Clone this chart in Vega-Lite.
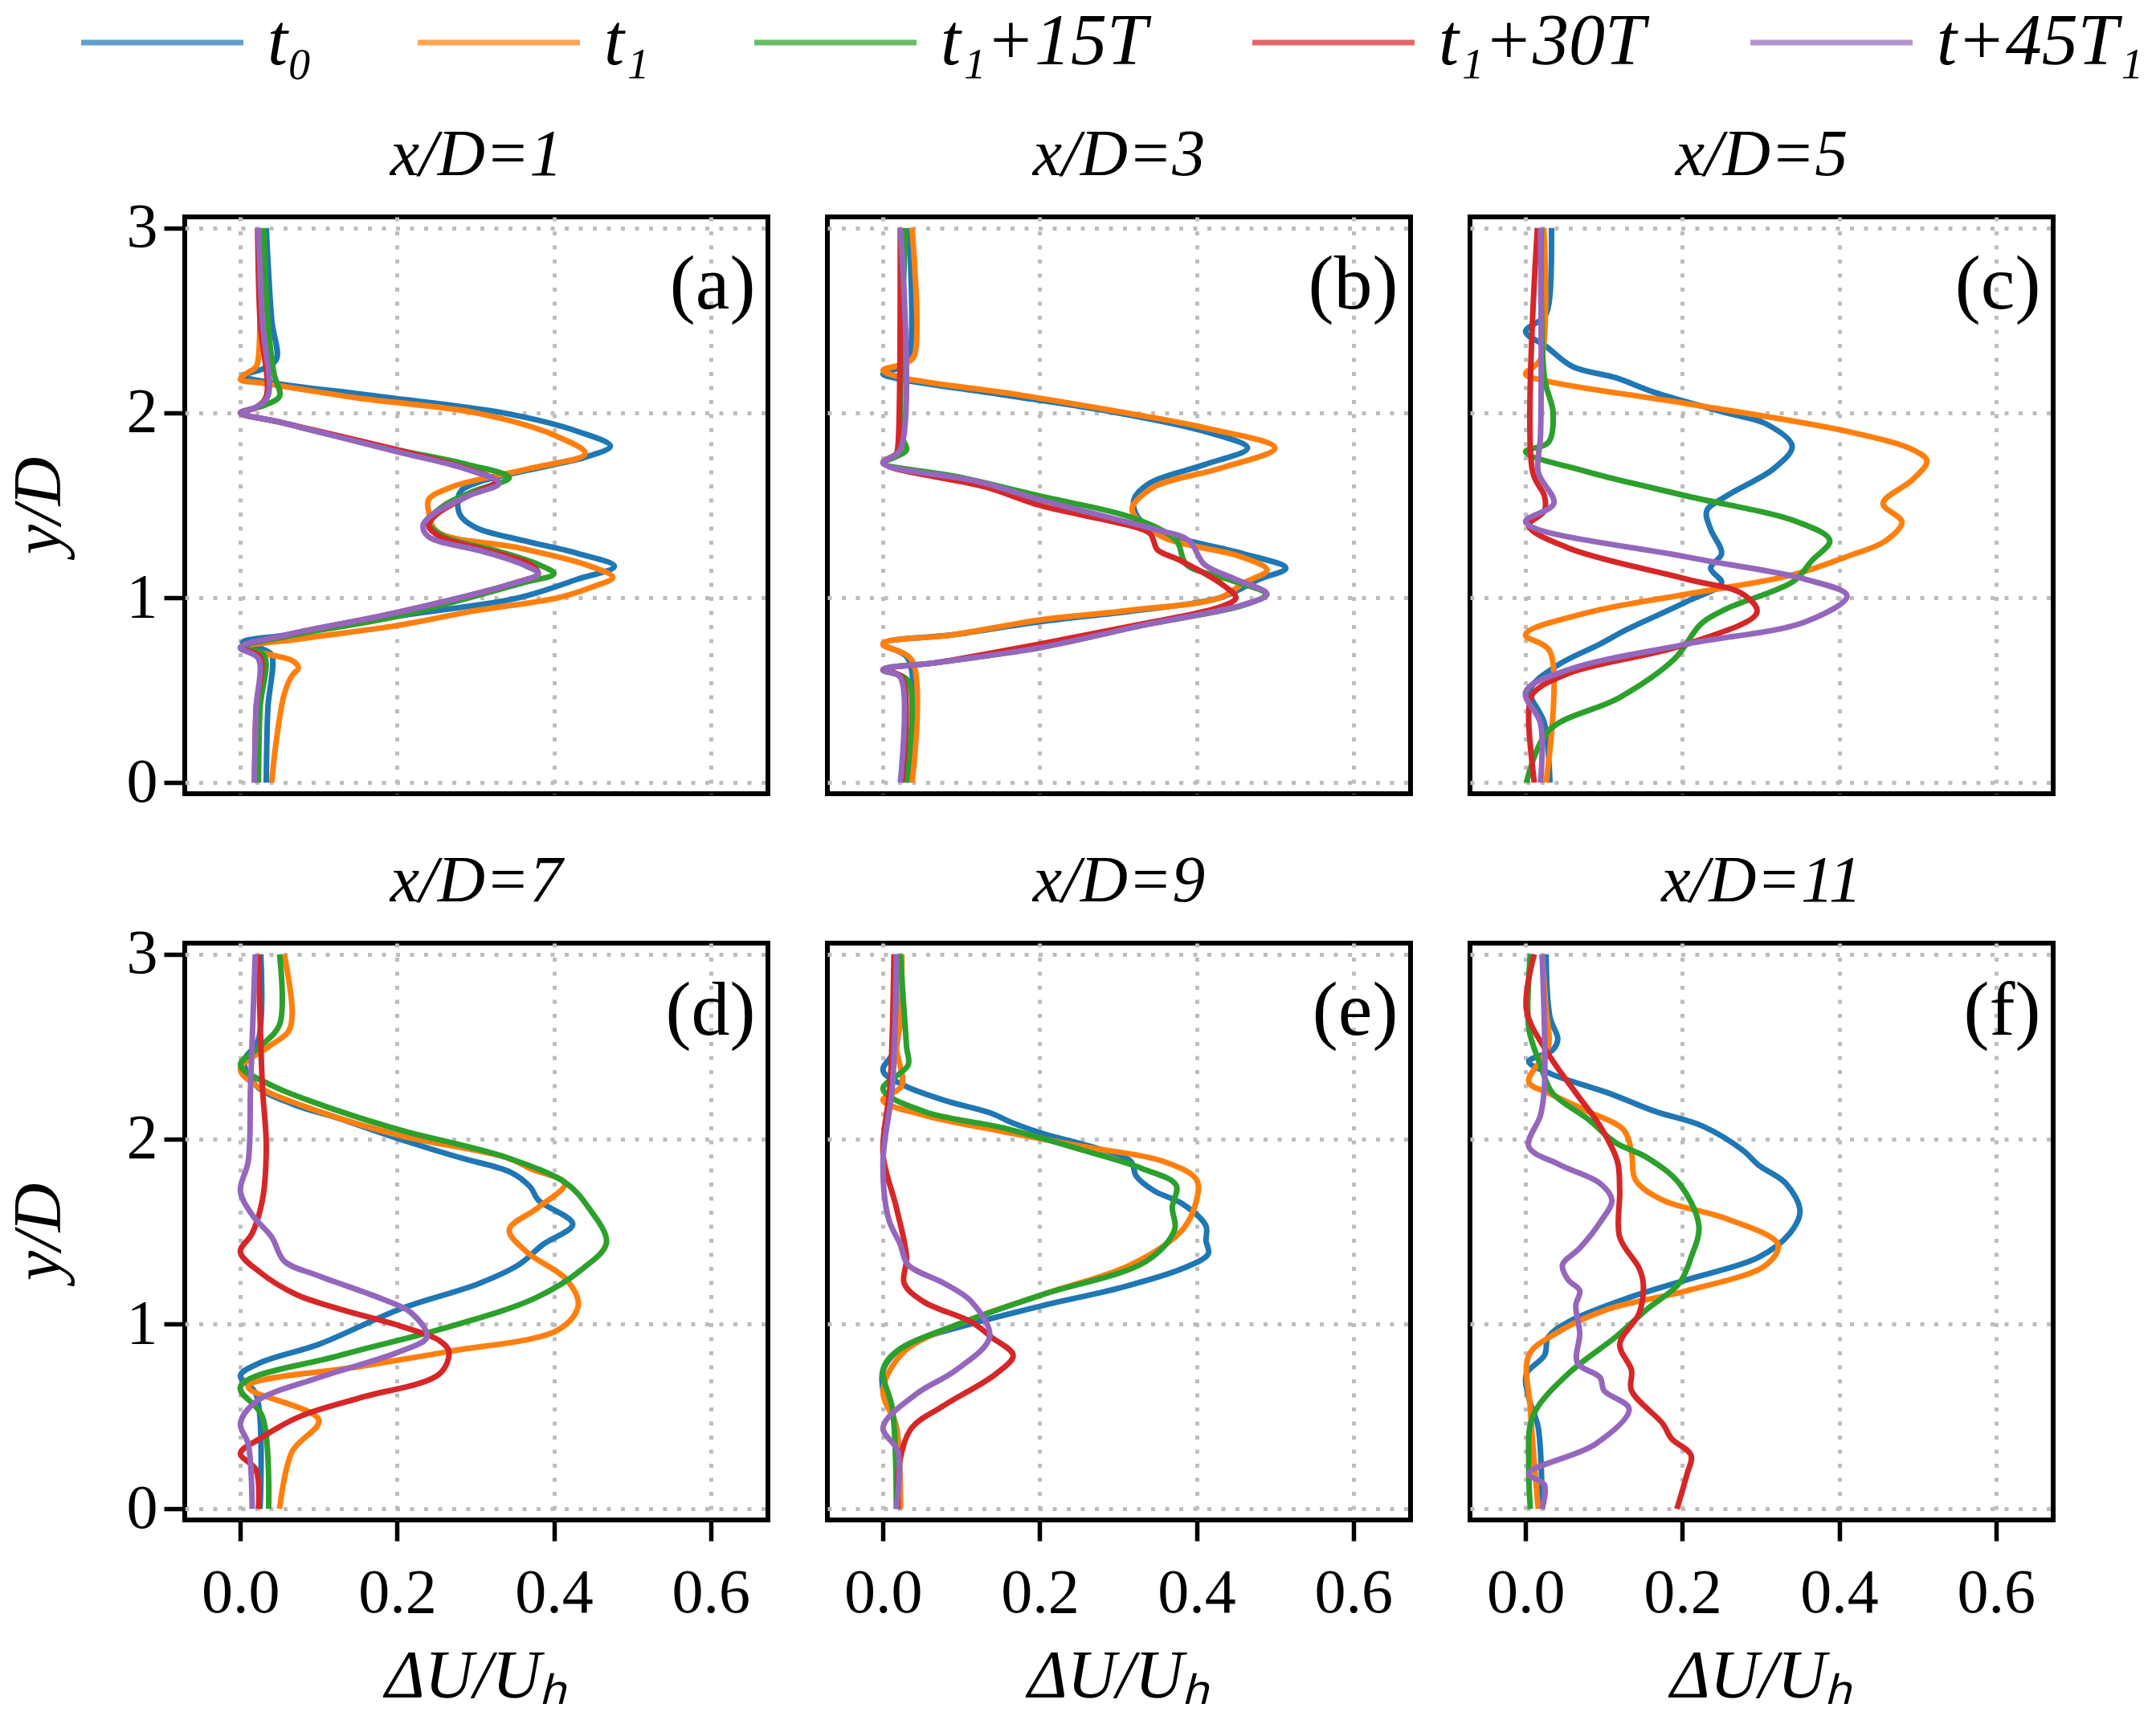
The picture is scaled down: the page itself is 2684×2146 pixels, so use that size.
{
  "$schema": "https://vega.github.io/schema/vega-lite/v6.json",
  "background": "white",
  "padding": {"left": 4, "top": 8, "right": 5, "bottom": 5},
  "datasets": {
    "prof": [
      {"panel":"a","series":"t₀","y":3.0,"u":0.033},{"panel":"a","series":"t₀","y":2.5,"u":0.04},{"panel":"a","series":"t₀","y":2.29,"u":0.046},{"panel":"a","series":"t₀","y":2.24,"u":0.03},{"panel":"a","series":"t₀","y":2.2,"u":0.003},{"panel":"a","series":"t₀","y":2.17,"u":0.03},{"panel":"a","series":"t₀","y":2.09,"u":0.175},{"panel":"a","series":"t₀","y":2.0,"u":0.335},{"panel":"a","series":"t₀","y":1.9,"u":0.43},{"panel":"a","series":"t₀","y":1.82,"u":0.472},{"panel":"a","series":"t₀","y":1.76,"u":0.44},{"panel":"a","series":"t₀","y":1.72,"u":0.4},{"panel":"a","series":"t₀","y":1.62,"u":0.3},{"panel":"a","series":"t₀","y":1.57,"u":0.28},{"panel":"a","series":"t₀","y":1.45,"u":0.28},{"panel":"a","series":"t₀","y":1.38,"u":0.3},{"panel":"a","series":"t₀","y":1.31,"u":0.36},{"panel":"a","series":"t₀","y":1.24,"u":0.43},{"panel":"a","series":"t₀","y":1.17,"u":0.477},{"panel":"a","series":"t₀","y":1.1,"u":0.43},{"panel":"a","series":"t₀","y":1.0,"u":0.355},{"panel":"a","series":"t₀","y":0.9,"u":0.2},{"panel":"a","series":"t₀","y":0.8,"u":0.06},{"panel":"a","series":"t₀","y":0.76,"u":0.003},{"panel":"a","series":"t₀","y":0.72,"u":0.03},{"panel":"a","series":"t₀","y":0.69,"u":0.04},{"panel":"a","series":"t₀","y":0.4,"u":0.035},{"panel":"a","series":"t₀","y":0.0,"u":0.033},
      {"panel":"a","series":"t₁","y":3.0,"u":0.025},{"panel":"a","series":"t₁","y":2.3,"u":0.023},{"panel":"a","series":"t₁","y":2.25,"u":0.02},{"panel":"a","series":"t₁","y":2.2,"u":0.003},{"panel":"a","series":"t₁","y":2.18,"u":0.0},{"panel":"a","series":"t₁","y":2.16,"u":0.03},{"panel":"a","series":"t₁","y":2.08,"u":0.15},{"panel":"a","series":"t₁","y":2.0,"u":0.3},{"panel":"a","series":"t₁","y":1.88,"u":0.4},{"panel":"a","series":"t₁","y":1.78,"u":0.44},{"panel":"a","series":"t₁","y":1.7,"u":0.37},{"panel":"a","series":"t₁","y":1.6,"u":0.27},{"panel":"a","series":"t₁","y":1.53,"u":0.24},{"panel":"a","series":"t₁","y":1.47,"u":0.24},{"panel":"a","series":"t₁","y":1.36,"u":0.25},{"panel":"a","series":"t₁","y":1.27,"u":0.355},{"panel":"a","series":"t₁","y":1.18,"u":0.44},{"panel":"a","series":"t₁","y":1.11,"u":0.475},{"panel":"a","series":"t₁","y":1.06,"u":0.45},{"panel":"a","series":"t₁","y":1.0,"u":0.405},{"panel":"a","series":"t₁","y":0.93,"u":0.3},{"panel":"a","series":"t₁","y":0.85,"u":0.2},{"panel":"a","series":"t₁","y":0.78,"u":0.08},{"panel":"a","series":"t₁","y":0.73,"u":0.0},{"panel":"a","series":"t₁","y":0.69,"u":0.04},{"panel":"a","series":"t₁","y":0.66,"u":0.066},{"panel":"a","series":"t₁","y":0.62,"u":0.074},{"panel":"a","series":"t₁","y":0.58,"u":0.066},{"panel":"a","series":"t₁","y":0.48,"u":0.056},{"panel":"a","series":"t₁","y":0.2,"u":0.045},{"panel":"a","series":"t₁","y":0.0,"u":0.04},
      {"panel":"a","series":"t₁+15T","y":3.0,"u":0.03},{"panel":"a","series":"t₁+15T","y":2.5,"u":0.035},{"panel":"a","series":"t₁+15T","y":2.21,"u":0.043},{"panel":"a","series":"t₁+15T","y":2.09,"u":0.05},{"panel":"a","series":"t₁+15T","y":2.04,"u":0.03},{"panel":"a","series":"t₁+15T","y":2.0,"u":0.0},{"panel":"a","series":"t₁+15T","y":1.95,"u":0.05},{"panel":"a","series":"t₁+15T","y":1.88,"u":0.117},{"panel":"a","series":"t₁+15T","y":1.8,"u":0.2},{"panel":"a","series":"t₁+15T","y":1.72,"u":0.29},{"panel":"a","series":"t₁+15T","y":1.65,"u":0.343},{"panel":"a","series":"t₁+15T","y":1.58,"u":0.3},{"panel":"a","series":"t₁+15T","y":1.5,"u":0.26},{"panel":"a","series":"t₁+15T","y":1.41,"u":0.24},{"panel":"a","series":"t₁+15T","y":1.33,"u":0.26},{"panel":"a","series":"t₁+15T","y":1.25,"u":0.33},{"panel":"a","series":"t₁+15T","y":1.18,"u":0.38},{"panel":"a","series":"t₁+15T","y":1.13,"u":0.4},{"panel":"a","series":"t₁+15T","y":1.08,"u":0.36},{"panel":"a","series":"t₁+15T","y":0.9,"u":0.2},{"panel":"a","series":"t₁+15T","y":0.8,"u":0.07},{"panel":"a","series":"t₁+15T","y":0.73,"u":0.0},{"panel":"a","series":"t₁+15T","y":0.69,"u":0.03},{"panel":"a","series":"t₁+15T","y":0.4,"u":0.025},{"panel":"a","series":"t₁+15T","y":0.0,"u":0.023},
      {"panel":"a","series":"t₁+30T","y":3.0,"u":0.022},{"panel":"a","series":"t₁+30T","y":2.5,"u":0.025},{"panel":"a","series":"t₁+30T","y":2.09,"u":0.033},{"panel":"a","series":"t₁+30T","y":2.03,"u":0.02},{"panel":"a","series":"t₁+30T","y":2.0,"u":0.0},{"panel":"a","series":"t₁+30T","y":1.95,"u":0.05},{"panel":"a","series":"t₁+30T","y":1.8,"u":0.2},{"panel":"a","series":"t₁+30T","y":1.71,"u":0.28},{"panel":"a","series":"t₁+30T","y":1.63,"u":0.325},{"panel":"a","series":"t₁+30T","y":1.55,"u":0.29},{"panel":"a","series":"t₁+30T","y":1.45,"u":0.25},{"panel":"a","series":"t₁+30T","y":1.39,"u":0.24},{"panel":"a","series":"t₁+30T","y":1.33,"u":0.255},{"panel":"a","series":"t₁+30T","y":1.25,"u":0.32},{"panel":"a","series":"t₁+30T","y":1.18,"u":0.37},{"panel":"a","series":"t₁+30T","y":1.13,"u":0.38},{"panel":"a","series":"t₁+30T","y":1.08,"u":0.35},{"panel":"a","series":"t₁+30T","y":0.92,"u":0.2},{"panel":"a","series":"t₁+30T","y":0.8,"u":0.06},{"panel":"a","series":"t₁+30T","y":0.73,"u":0.0},{"panel":"a","series":"t₁+30T","y":0.68,"u":0.025},{"panel":"a","series":"t₁+30T","y":0.4,"u":0.02},{"panel":"a","series":"t₁+30T","y":0.0,"u":0.018},
      {"panel":"a","series":"t+45T₁","y":3.0,"u":0.023},{"panel":"a","series":"t+45T₁","y":2.5,"u":0.028},{"panel":"a","series":"t+45T₁","y":2.09,"u":0.035},{"panel":"a","series":"t+45T₁","y":2.03,"u":0.02},{"panel":"a","series":"t+45T₁","y":2.0,"u":0.0},{"panel":"a","series":"t+45T₁","y":1.95,"u":0.05},{"panel":"a","series":"t+45T₁","y":1.79,"u":0.2},{"panel":"a","series":"t+45T₁","y":1.7,"u":0.285},{"panel":"a","series":"t+45T₁","y":1.62,"u":0.33},{"panel":"a","series":"t+45T₁","y":1.55,"u":0.29},{"panel":"a","series":"t+45T₁","y":1.45,"u":0.245},{"panel":"a","series":"t+45T₁","y":1.39,"u":0.233},{"panel":"a","series":"t+45T₁","y":1.33,"u":0.24},{"panel":"a","series":"t+45T₁","y":1.25,"u":0.31},{"panel":"a","series":"t+45T₁","y":1.18,"u":0.36},{"panel":"a","series":"t+45T₁","y":1.13,"u":0.38},{"panel":"a","series":"t+45T₁","y":1.08,"u":0.35},{"panel":"a","series":"t+45T₁","y":0.92,"u":0.2},{"panel":"a","series":"t+45T₁","y":0.8,"u":0.06},{"panel":"a","series":"t+45T₁","y":0.73,"u":0.0},{"panel":"a","series":"t+45T₁","y":0.67,"u":0.023},{"panel":"a","series":"t+45T₁","y":0.4,"u":0.02},{"panel":"a","series":"t+45T₁","y":0.0,"u":0.018},

      {"panel":"b","series":"t₀","y":3.0,"u":0.033},{"panel":"b","series":"t₀","y":2.29,"u":0.033},{"panel":"b","series":"t₀","y":2.25,"u":0.024},{"panel":"b","series":"t₀","y":2.21,"u":0.0},{"panel":"b","series":"t₀","y":2.18,"u":0.025},{"panel":"b","series":"t₀","y":2.1,"u":0.15},{"panel":"b","series":"t₀","y":2.0,"u":0.3},{"panel":"b","series":"t₀","y":1.9,"u":0.41},{"panel":"b","series":"t₀","y":1.81,"u":0.465},{"panel":"b","series":"t₀","y":1.72,"u":0.41},{"panel":"b","series":"t₀","y":1.62,"u":0.34},{"panel":"b","series":"t₀","y":1.53,"u":0.32},{"panel":"b","series":"t₀","y":1.43,"u":0.326},{"panel":"b","series":"t₀","y":1.35,"u":0.356},{"panel":"b","series":"t₀","y":1.24,"u":0.458},{"panel":"b","series":"t₀","y":1.16,"u":0.514},{"panel":"b","series":"t₀","y":1.1,"u":0.48},{"panel":"b","series":"t₀","y":1.0,"u":0.43},{"panel":"b","series":"t₀","y":0.93,"u":0.32},{"panel":"b","series":"t₀","y":0.87,"u":0.2},{"panel":"b","series":"t₀","y":0.8,"u":0.09},{"panel":"b","series":"t₀","y":0.75,"u":0.0},{"panel":"b","series":"t₀","y":0.67,"u":0.032},{"panel":"b","series":"t₀","y":0.0,"u":0.033},
      {"panel":"b","series":"t₁","y":3.0,"u":0.037},{"panel":"b","series":"t₁","y":2.31,"u":0.04},{"panel":"b","series":"t₁","y":2.27,"u":0.03},{"panel":"b","series":"t₁","y":2.23,"u":0.0},{"panel":"b","series":"t₁","y":2.19,"u":0.025},{"panel":"b","series":"t₁","y":2.1,"u":0.17},{"panel":"b","series":"t₁","y":2.0,"u":0.31},{"panel":"b","series":"t₁","y":1.92,"u":0.41},{"panel":"b","series":"t₁","y":1.81,"u":0.5},{"panel":"b","series":"t₁","y":1.7,"u":0.43},{"panel":"b","series":"t₁","y":1.6,"u":0.346},{"panel":"b","series":"t₁","y":1.49,"u":0.318},{"panel":"b","series":"t₁","y":1.45,"u":0.32},{"panel":"b","series":"t₁","y":1.33,"u":0.356},{"panel":"b","series":"t₁","y":1.22,"u":0.458},{"panel":"b","series":"t₁","y":1.15,"u":0.49},{"panel":"b","series":"t₁","y":1.08,"u":0.46},{"panel":"b","series":"t₁","y":1.0,"u":0.43},{"panel":"b","series":"t₁","y":0.93,"u":0.31},{"panel":"b","series":"t₁","y":0.88,"u":0.2},{"panel":"b","series":"t₁","y":0.8,"u":0.09},{"panel":"b","series":"t₁","y":0.75,"u":0.0},{"panel":"b","series":"t₁","y":0.66,"u":0.037},{"panel":"b","series":"t₁","y":0.0,"u":0.037},
      {"panel":"b","series":"t₁+15T","y":3.0,"u":0.029},{"panel":"b","series":"t₁+15T","y":1.88,"u":0.024},{"panel":"b","series":"t₁+15T","y":1.8,"u":0.03},{"panel":"b","series":"t₁+15T","y":1.76,"u":0.015},{"panel":"b","series":"t₁+15T","y":1.73,"u":0.0},{"panel":"b","series":"t₁+15T","y":1.65,"u":0.1},{"panel":"b","series":"t₁+15T","y":1.55,"u":0.2},{"panel":"b","series":"t₁+15T","y":1.43,"u":0.32},{"panel":"b","series":"t₁+15T","y":1.31,"u":0.374},{"panel":"b","series":"t₁+15T","y":1.18,"u":0.387},{"panel":"b","series":"t₁+15T","y":1.1,"u":0.44},{"panel":"b","series":"t₁+15T","y":1.02,"u":0.488},{"panel":"b","series":"t₁+15T","y":0.96,"u":0.46},{"panel":"b","series":"t₁+15T","y":0.85,"u":0.33},{"panel":"b","series":"t₁+15T","y":0.73,"u":0.2},{"panel":"b","series":"t₁+15T","y":0.65,"u":0.07},{"panel":"b","series":"t₁+15T","y":0.61,"u":0.0},{"panel":"b","series":"t₁+15T","y":0.55,"u":0.032},{"panel":"b","series":"t₁+15T","y":0.0,"u":0.029},
      {"panel":"b","series":"t₁+30T","y":3.0,"u":0.022},{"panel":"b","series":"t₁+30T","y":1.82,"u":0.019},{"panel":"b","series":"t₁+30T","y":1.78,"u":0.017},{"panel":"b","series":"t₁+30T","y":1.73,"u":0.0},{"panel":"b","series":"t₁+30T","y":1.6,"u":0.13},{"panel":"b","series":"t₁+30T","y":1.5,"u":0.2},{"panel":"b","series":"t₁+30T","y":1.35,"u":0.34},{"panel":"b","series":"t₁+30T","y":1.31,"u":0.345},{"panel":"b","series":"t₁+30T","y":1.26,"u":0.35},{"panel":"b","series":"t₁+30T","y":1.2,"u":0.38},{"panel":"b","series":"t₁+30T","y":1.08,"u":0.43},{"panel":"b","series":"t₁+30T","y":1.0,"u":0.45},{"panel":"b","series":"t₁+30T","y":0.95,"u":0.43},{"panel":"b","series":"t₁+30T","y":0.85,"u":0.32},{"panel":"b","series":"t₁+30T","y":0.75,"u":0.2},{"panel":"b","series":"t₁+30T","y":0.65,"u":0.07},{"panel":"b","series":"t₁+30T","y":0.61,"u":0.0},{"panel":"b","series":"t₁+30T","y":0.57,"u":0.024},{"panel":"b","series":"t₁+30T","y":0.0,"u":0.024},
      {"panel":"b","series":"t+45T₁","y":3.0,"u":0.022},{"panel":"b","series":"t+45T₁","y":1.8,"u":0.022},{"panel":"b","series":"t+45T₁","y":1.73,"u":0.0},{"panel":"b","series":"t+45T₁","y":1.63,"u":0.12},{"panel":"b","series":"t+45T₁","y":1.53,"u":0.2},{"panel":"b","series":"t+45T₁","y":1.37,"u":0.346},{"panel":"b","series":"t+45T₁","y":1.31,"u":0.39},{"panel":"b","series":"t+45T₁","y":1.18,"u":0.41},{"panel":"b","series":"t+45T₁","y":1.1,"u":0.45},{"panel":"b","series":"t+45T₁","y":1.02,"u":0.49},{"panel":"b","series":"t+45T₁","y":0.96,"u":0.458},{"panel":"b","series":"t+45T₁","y":0.85,"u":0.33},{"panel":"b","series":"t+45T₁","y":0.73,"u":0.2},{"panel":"b","series":"t+45T₁","y":0.65,"u":0.07},{"panel":"b","series":"t+45T₁","y":0.61,"u":0.0},{"panel":"b","series":"t+45T₁","y":0.57,"u":0.022},{"panel":"b","series":"t+45T₁","y":0.0,"u":0.022},

      {"panel":"c","series":"t₀","y":3.0,"u":0.033},{"panel":"c","series":"t₀","y":2.6,"u":0.03},{"panel":"c","series":"t₀","y":2.52,"u":0.024},{"panel":"c","series":"t₀","y":2.44,"u":0.0},{"panel":"c","series":"t₀","y":2.36,"u":0.026},{"panel":"c","series":"t₀","y":2.25,"u":0.06},{"panel":"c","series":"t₀","y":2.19,"u":0.115},{"panel":"c","series":"t₀","y":2.11,"u":0.165},{"panel":"c","series":"t₀","y":2.0,"u":0.256},{"panel":"c","series":"t₀","y":1.94,"u":0.307},{"panel":"c","series":"t₀","y":1.82,"u":0.34},{"panel":"c","series":"t₀","y":1.7,"u":0.317},{"panel":"c","series":"t₀","y":1.55,"u":0.256},{"panel":"c","series":"t₀","y":1.47,"u":0.231},{"panel":"c","series":"t₀","y":1.37,"u":0.236},{"panel":"c","series":"t₀","y":1.24,"u":0.25},{"panel":"c","series":"t₀","y":1.16,"u":0.236},{"panel":"c","series":"t₀","y":1.08,"u":0.25},{"panel":"c","series":"t₀","y":0.98,"u":0.206},{"panel":"c","series":"t₀","y":0.83,"u":0.13},{"panel":"c","series":"t₀","y":0.75,"u":0.095},{"panel":"c","series":"t₀","y":0.63,"u":0.039},{"panel":"c","series":"t₀","y":0.5,"u":0.006},{"panel":"c","series":"t₀","y":0.32,"u":0.024},{"panel":"c","series":"t₀","y":0.0,"u":0.031},
      {"panel":"c","series":"t₁","y":3.0,"u":0.023},{"panel":"c","series":"t₁","y":2.29,"u":0.019},{"panel":"c","series":"t₁","y":2.21,"u":0.0},{"panel":"c","series":"t₁","y":2.17,"u":0.029},{"panel":"c","series":"t₁","y":2.05,"u":0.206},{"panel":"c","series":"t₁","y":1.9,"u":0.41},{"panel":"c","series":"t₁","y":1.8,"u":0.494},{"panel":"c","series":"t₁","y":1.74,"u":0.512},{"panel":"c","series":"t₁","y":1.64,"u":0.494},{"panel":"c","series":"t₁","y":1.51,"u":0.456},{"panel":"c","series":"t₁","y":1.41,"u":0.48},{"panel":"c","series":"t₁","y":1.31,"u":0.46},{"panel":"c","series":"t₁","y":1.22,"u":0.408},{"panel":"c","series":"t₁","y":1.12,"u":0.337},{"panel":"c","series":"t₁","y":1.02,"u":0.206},{"panel":"c","series":"t₁","y":0.92,"u":0.08},{"panel":"c","series":"t₁","y":0.8,"u":0.0},{"panel":"c","series":"t₁","y":0.71,"u":0.031},{"panel":"c","series":"t₁","y":0.0,"u":0.026},
      {"panel":"c","series":"t₁+15T","y":3.0,"u":0.02},{"panel":"c","series":"t₁+15T","y":2.19,"u":0.024},{"panel":"c","series":"t₁+15T","y":2.0,"u":0.035},{"panel":"c","series":"t₁+15T","y":1.84,"u":0.029},{"panel":"c","series":"t₁+15T","y":1.79,"u":0.0},{"panel":"c","series":"t₁+15T","y":1.68,"u":0.08},{"panel":"c","series":"t₁+15T","y":1.55,"u":0.206},{"panel":"c","series":"t₁+15T","y":1.41,"u":0.347},{"panel":"c","series":"t₁+15T","y":1.31,"u":0.388},{"panel":"c","series":"t₁+15T","y":1.2,"u":0.365},{"panel":"c","series":"t₁+15T","y":1.09,"u":0.342},{"panel":"c","series":"t₁+15T","y":0.94,"u":0.256},{"panel":"c","series":"t₁+15T","y":0.86,"u":0.224},{"panel":"c","series":"t₁+15T","y":0.67,"u":0.19},{"panel":"c","series":"t₁+15T","y":0.46,"u":0.12},{"panel":"c","series":"t₁+15T","y":0.28,"u":0.029},{"panel":"c","series":"t₁+15T","y":0.0,"u":0.001},
      {"panel":"c","series":"t₁+30T","y":3.0,"u":0.015},{"panel":"c","series":"t₁+30T","y":1.68,"u":0.009},{"panel":"c","series":"t₁+30T","y":1.55,"u":0.024},{"panel":"c","series":"t₁+30T","y":1.47,"u":0.024},{"panel":"c","series":"t₁+30T","y":1.39,"u":0.004},{"panel":"c","series":"t₁+30T","y":1.27,"u":0.054},{"panel":"c","series":"t₁+30T","y":1.1,"u":0.206},{"panel":"c","series":"t₁+30T","y":1.02,"u":0.277},{"panel":"c","series":"t₁+30T","y":0.92,"u":0.295},{"panel":"c","series":"t₁+30T","y":0.75,"u":0.206},{"panel":"c","series":"t₁+30T","y":0.59,"u":0.054},{"panel":"c","series":"t₁+30T","y":0.48,"u":0.009},{"panel":"c","series":"t₁+30T","y":0.38,"u":0.004},{"panel":"c","series":"t₁+30T","y":0.0,"u":0.011},
      {"panel":"c","series":"t+45T₁","y":3.0,"u":0.019},{"panel":"c","series":"t+45T₁","y":1.88,"u":0.019},{"panel":"c","series":"t+45T₁","y":1.68,"u":0.016},{"panel":"c","series":"t+45T₁","y":1.51,"u":0.036},{"panel":"c","series":"t+45T₁","y":1.41,"u":0.0},{"panel":"c","series":"t+45T₁","y":1.22,"u":0.206},{"panel":"c","series":"t+45T₁","y":1.1,"u":0.357},{"panel":"c","series":"t+45T₁","y":1.01,"u":0.41},{"panel":"c","series":"t+45T₁","y":0.87,"u":0.357},{"panel":"c","series":"t+45T₁","y":0.75,"u":0.206},{"panel":"c","series":"t+45T₁","y":0.61,"u":0.054},{"panel":"c","series":"t+45T₁","y":0.49,"u":0.0},{"panel":"c","series":"t+45T₁","y":0.32,"u":0.019},{"panel":"c","series":"t+45T₁","y":0.0,"u":0.019},

      {"panel":"d","series":"t₀","y":3.0,"u":0.026},{"panel":"d","series":"t₀","y":2.54,"u":0.023},{"panel":"d","series":"t₀","y":2.42,"u":0.005},{"panel":"d","series":"t₀","y":2.29,"u":0.02},{"panel":"d","series":"t₀","y":2.19,"u":0.066},{"panel":"d","series":"t₀","y":2.11,"u":0.127},{"panel":"d","series":"t₀","y":2.0,"u":0.203},{"panel":"d","series":"t₀","y":1.9,"u":0.28},{"panel":"d","series":"t₀","y":1.82,"u":0.345},{"panel":"d","series":"t₀","y":1.74,"u":0.37},{"panel":"d","series":"t₀","y":1.67,"u":0.38},{"panel":"d","series":"t₀","y":1.54,"u":0.424},{"panel":"d","series":"t₀","y":1.43,"u":0.386},{"panel":"d","series":"t₀","y":1.32,"u":0.355},{"panel":"d","series":"t₀","y":1.22,"u":0.305},{"panel":"d","series":"t₀","y":1.08,"u":0.203},{"panel":"d","series":"t₀","y":0.89,"u":0.1},{"panel":"d","series":"t₀","y":0.79,"u":0.025},{"panel":"d","series":"t₀","y":0.72,"u":0.0},{"panel":"d","series":"t₀","y":0.62,"u":0.02},{"panel":"d","series":"t₀","y":0.0,"u":0.025},
      {"panel":"d","series":"t₁","y":3.0,"u":0.056},{"panel":"d","series":"t₁","y":2.68,"u":0.066},{"panel":"d","series":"t₁","y":2.58,"u":0.061},{"panel":"d","series":"t₁","y":2.5,"u":0.036},{"panel":"d","series":"t₁","y":2.38,"u":0.0},{"panel":"d","series":"t₁","y":2.29,"u":0.02},{"panel":"d","series":"t₁","y":2.15,"u":0.1},{"panel":"d","series":"t₁","y":2.02,"u":0.203},{"panel":"d","series":"t₁","y":1.9,"u":0.34},{"panel":"d","series":"t₁","y":1.84,"u":0.37},{"panel":"d","series":"t₁","y":1.76,"u":0.414},{"panel":"d","series":"t₁","y":1.63,"u":0.38},{"panel":"d","series":"t₁","y":1.51,"u":0.343},{"panel":"d","series":"t₁","y":1.39,"u":0.365},{"panel":"d","series":"t₁","y":1.24,"u":0.416},{"panel":"d","series":"t₁","y":1.1,"u":0.431},{"panel":"d","series":"t₁","y":0.97,"u":0.406},{"panel":"d","series":"t₁","y":0.85,"u":0.264},{"panel":"d","series":"t₁","y":0.77,"u":0.152},{"panel":"d","series":"t₁","y":0.66,"u":0.01},{"panel":"d","series":"t₁","y":0.48,"u":0.1},{"panel":"d","series":"t₁","y":0.31,"u":0.066},{"panel":"d","series":"t₁","y":0.0,"u":0.05},
      {"panel":"d","series":"t₁+15T","y":3.0,"u":0.05},{"panel":"d","series":"t₁+15T","y":2.62,"u":0.05},{"panel":"d","series":"t₁+15T","y":2.5,"u":0.025},{"panel":"d","series":"t₁+15T","y":2.4,"u":0.0},{"panel":"d","series":"t₁+15T","y":2.29,"u":0.04},{"panel":"d","series":"t₁+15T","y":2.15,"u":0.127},{"panel":"d","series":"t₁+15T","y":2.05,"u":0.203},{"panel":"d","series":"t₁+15T","y":1.9,"u":0.34},{"panel":"d","series":"t₁+15T","y":1.76,"u":0.416},{"panel":"d","series":"t₁+15T","y":1.63,"u":0.444},{"panel":"d","series":"t₁+15T","y":1.44,"u":0.467},{"panel":"d","series":"t₁+15T","y":1.3,"u":0.437},{"panel":"d","series":"t₁+15T","y":1.14,"u":0.376},{"panel":"d","series":"t₁+15T","y":0.97,"u":0.254},{"panel":"d","series":"t₁+15T","y":0.83,"u":0.127},{"panel":"d","series":"t₁+15T","y":0.66,"u":0.0},{"panel":"d","series":"t₁+15T","y":0.5,"u":0.028},{"panel":"d","series":"t₁+15T","y":0.0,"u":0.036},
      {"panel":"d","series":"t₁+30T","y":3.0,"u":0.023},{"panel":"d","series":"t₁+30T","y":2.29,"u":0.028},{"panel":"d","series":"t₁+30T","y":1.96,"u":0.033},{"panel":"d","series":"t₁+30T","y":1.67,"u":0.028},{"panel":"d","series":"t₁+30T","y":1.49,"u":0.015},{"panel":"d","series":"t₁+30T","y":1.39,"u":0.0},{"panel":"d","series":"t₁+30T","y":1.28,"u":0.025},{"panel":"d","series":"t₁+30T","y":1.16,"u":0.071},{"panel":"d","series":"t₁+30T","y":1.08,"u":0.127},{"panel":"d","series":"t₁+30T","y":0.99,"u":0.203},{"panel":"d","series":"t₁+30T","y":0.91,"u":0.254},{"panel":"d","series":"t₁+30T","y":0.85,"u":0.266},{"panel":"d","series":"t₁+30T","y":0.73,"u":0.254},{"panel":"d","series":"t₁+30T","y":0.6,"u":0.152},{"panel":"d","series":"t₁+30T","y":0.5,"u":0.076},{"panel":"d","series":"t₁+30T","y":0.38,"u":0.025},{"panel":"d","series":"t₁+30T","y":0.3,"u":0.0},{"panel":"d","series":"t₁+30T","y":0.21,"u":0.02},{"panel":"d","series":"t₁+30T","y":0.0,"u":0.023},
      {"panel":"d","series":"t+45T₁","y":3.0,"u":0.019},{"panel":"d","series":"t+45T₁","y":2.29,"u":0.013},{"panel":"d","series":"t+45T₁","y":1.88,"u":0.01},{"panel":"d","series":"t+45T₁","y":1.72,"u":0.0},{"panel":"d","series":"t+45T₁","y":1.59,"u":0.015},{"panel":"d","series":"t+45T₁","y":1.47,"u":0.04},{"panel":"d","series":"t+45T₁","y":1.34,"u":0.056},{"panel":"d","series":"t+45T₁","y":1.26,"u":0.1},{"panel":"d","series":"t+45T₁","y":1.14,"u":0.178},{"panel":"d","series":"t+45T₁","y":1.06,"u":0.218},{"panel":"d","series":"t+45T₁","y":0.93,"u":0.238},{"panel":"d","series":"t+45T₁","y":0.85,"u":0.203},{"panel":"d","series":"t+45T₁","y":0.71,"u":0.1},{"panel":"d","series":"t+45T₁","y":0.58,"u":0.02},{"panel":"d","series":"t+45T₁","y":0.46,"u":0.0},{"panel":"d","series":"t+45T₁","y":0.35,"u":0.01},{"panel":"d","series":"t+45T₁","y":0.0,"u":0.015},

      {"panel":"e","series":"t₀","y":3.0,"u":0.017},{"panel":"e","series":"t₀","y":2.5,"u":0.017},{"panel":"e","series":"t₀","y":2.37,"u":0.0},{"panel":"e","series":"t₀","y":2.29,"u":0.027},{"panel":"e","series":"t₀","y":2.21,"u":0.078},{"panel":"e","series":"t₀","y":2.14,"u":0.138},{"panel":"e","series":"t₀","y":2.09,"u":0.164},{"panel":"e","series":"t₀","y":2.03,"u":0.204},{"panel":"e","series":"t₀","y":1.96,"u":0.265},{"panel":"e","series":"t₀","y":1.88,"u":0.316},{"panel":"e","series":"t₀","y":1.8,"u":0.323},{"panel":"e","series":"t₀","y":1.72,"u":0.346},{"panel":"e","series":"t₀","y":1.65,"u":0.382},{"panel":"e","series":"t₀","y":1.53,"u":0.412},{"panel":"e","series":"t₀","y":1.45,"u":0.412},{"panel":"e","series":"t₀","y":1.38,"u":0.415},{"panel":"e","series":"t₀","y":1.3,"u":0.382},{"panel":"e","series":"t₀","y":1.2,"u":0.306},{"panel":"e","series":"t₀","y":1.1,"u":0.204},{"panel":"e","series":"t₀","y":0.99,"u":0.103},{"panel":"e","series":"t₀","y":0.91,"u":0.042},{"panel":"e","series":"t₀","y":0.85,"u":0.017},{"panel":"e","series":"t₀","y":0.75,"u":0.0},{"panel":"e","series":"t₀","y":0.64,"u":0.0},{"panel":"e","series":"t₀","y":0.44,"u":0.017},{"panel":"e","series":"t₀","y":0.0,"u":0.022},
      {"panel":"e","series":"t₁","y":3.0,"u":0.024},{"panel":"e","series":"t₁","y":2.62,"u":0.022},{"panel":"e","series":"t₁","y":2.5,"u":0.017},{"panel":"e","series":"t₁","y":2.29,"u":0.024},{"panel":"e","series":"t₁","y":2.21,"u":0.0},{"panel":"e","series":"t₁","y":2.13,"u":0.052},{"panel":"e","series":"t₁","y":2.04,"u":0.154},{"panel":"e","series":"t₁","y":1.96,"u":0.255},{"panel":"e","series":"t₁","y":1.88,"u":0.357},{"panel":"e","series":"t₁","y":1.78,"u":0.4},{"panel":"e","series":"t₁","y":1.67,"u":0.4},{"panel":"e","series":"t₁","y":1.51,"u":0.382},{"panel":"e","series":"t₁","y":1.32,"u":0.316},{"panel":"e","series":"t₁","y":1.16,"u":0.204},{"panel":"e","series":"t₁","y":1.01,"u":0.103},{"panel":"e","series":"t₁","y":0.85,"u":0.027},{"panel":"e","series":"t₁","y":0.64,"u":0.0},{"panel":"e","series":"t₁","y":0.44,"u":0.017},{"panel":"e","series":"t₁","y":0.0,"u":0.022},
      {"panel":"e","series":"t₁+15T","y":3.0,"u":0.022},{"panel":"e","series":"t₁+15T","y":2.5,"u":0.03},{"panel":"e","series":"t₁+15T","y":2.4,"u":0.032},{"panel":"e","series":"t₁+15T","y":2.27,"u":0.0},{"panel":"e","series":"t₁+15T","y":2.15,"u":0.052},{"panel":"e","series":"t₁+15T","y":2.06,"u":0.154},{"panel":"e","series":"t₁+15T","y":1.94,"u":0.255},{"panel":"e","series":"t₁+15T","y":1.84,"u":0.331},{"panel":"e","series":"t₁+15T","y":1.75,"u":0.374},{"panel":"e","series":"t₁+15T","y":1.63,"u":0.369},{"panel":"e","series":"t₁+15T","y":1.51,"u":0.372},{"panel":"e","series":"t₁+15T","y":1.34,"u":0.336},{"panel":"e","series":"t₁+15T","y":1.16,"u":0.204},{"panel":"e","series":"t₁+15T","y":1.01,"u":0.103},{"panel":"e","series":"t₁+15T","y":0.85,"u":0.017},{"panel":"e","series":"t₁+15T","y":0.75,"u":0.0},{"panel":"e","series":"t₁+15T","y":0.54,"u":0.012},{"panel":"e","series":"t₁+15T","y":0.0,"u":0.017},
      {"panel":"e","series":"t₁+30T","y":3.0,"u":0.014},{"panel":"e","series":"t₁+30T","y":2.29,"u":0.009},{"panel":"e","series":"t₁+30T","y":1.92,"u":0.0},{"panel":"e","series":"t₁+30T","y":1.63,"u":0.017},{"panel":"e","series":"t₁+30T","y":1.36,"u":0.03},{"panel":"e","series":"t₁+30T","y":1.22,"u":0.027},{"panel":"e","series":"t₁+30T","y":1.12,"u":0.052},{"panel":"e","series":"t₁+30T","y":1.01,"u":0.113},{"panel":"e","series":"t₁+30T","y":0.93,"u":0.138},{"panel":"e","series":"t₁+30T","y":0.83,"u":0.166},{"panel":"e","series":"t₁+30T","y":0.73,"u":0.144},{"panel":"e","series":"t₁+30T","y":0.56,"u":0.078},{"panel":"e","series":"t₁+30T","y":0.44,"u":0.037},{"panel":"e","series":"t₁+30T","y":0.27,"u":0.022},{"panel":"e","series":"t₁+30T","y":0.0,"u":0.019},
      {"panel":"e","series":"t+45T₁","y":3.0,"u":0.017},{"panel":"e","series":"t+45T₁","y":2.29,"u":0.012},{"panel":"e","series":"t+45T₁","y":1.88,"u":0.0},{"panel":"e","series":"t+45T₁","y":1.57,"u":0.007},{"panel":"e","series":"t+45T₁","y":1.43,"u":0.022},{"panel":"e","series":"t+45T₁","y":1.32,"u":0.032},{"panel":"e","series":"t+45T₁","y":1.22,"u":0.078},{"panel":"e","series":"t+45T₁","y":1.12,"u":0.113},{"panel":"e","series":"t+45T₁","y":0.93,"u":0.136},{"panel":"e","series":"t+45T₁","y":0.75,"u":0.093},{"panel":"e","series":"t+45T₁","y":0.62,"u":0.042},{"panel":"e","series":"t+45T₁","y":0.44,"u":0.0},{"panel":"e","series":"t+45T₁","y":0.31,"u":0.019},{"panel":"e","series":"t+45T₁","y":0.0,"u":0.017},

      {"panel":"f","series":"t₀","y":3.0,"u":0.026},{"panel":"f","series":"t₀","y":2.66,"u":0.031},{"panel":"f","series":"t₀","y":2.54,"u":0.041},{"panel":"f","series":"t₀","y":2.48,"u":0.034},{"panel":"f","series":"t₀","y":2.42,"u":0.004},{"panel":"f","series":"t₀","y":2.35,"u":0.034},{"panel":"f","series":"t₀","y":2.25,"u":0.105},{"panel":"f","series":"t₀","y":2.15,"u":0.165},{"panel":"f","series":"t₀","y":2.07,"u":0.226},{"panel":"f","series":"t₀","y":1.94,"u":0.277},{"panel":"f","series":"t₀","y":1.86,"u":0.297},{"panel":"f","series":"t₀","y":1.76,"u":0.332},{"panel":"f","series":"t₀","y":1.61,"u":0.35},{"panel":"f","series":"t₀","y":1.49,"u":0.337},{"panel":"f","series":"t₀","y":1.36,"u":0.297},{"panel":"f","series":"t₀","y":1.24,"u":0.206},{"panel":"f","series":"t₀","y":1.14,"u":0.13},{"panel":"f","series":"t₀","y":1.01,"u":0.054},{"panel":"f","series":"t₀","y":0.93,"u":0.029},{"panel":"f","series":"t₀","y":0.83,"u":0.024},{"panel":"f","series":"t₀","y":0.73,"u":0.001},{"panel":"f","series":"t₀","y":0.6,"u":0.004},{"panel":"f","series":"t₀","y":0.44,"u":0.016},{"panel":"f","series":"t₀","y":0.0,"u":0.021},
      {"panel":"f","series":"t₁","y":3.0,"u":0.021},{"panel":"f","series":"t₁","y":2.7,"u":0.026},{"panel":"f","series":"t₁","y":2.5,"u":0.029},{"panel":"f","series":"t₁","y":2.31,"u":0.004},{"panel":"f","series":"t₁","y":2.25,"u":0.029},{"panel":"f","series":"t₁","y":2.15,"u":0.079},{"panel":"f","series":"t₁","y":2.05,"u":0.125},{"panel":"f","series":"t₁","y":1.93,"u":0.135},{"panel":"f","series":"t₁","y":1.78,"u":0.14},{"panel":"f","series":"t₁","y":1.67,"u":0.175},{"panel":"f","series":"t₁","y":1.57,"u":0.256},{"panel":"f","series":"t₁","y":1.43,"u":0.322},{"panel":"f","series":"t₁","y":1.32,"u":0.307},{"panel":"f","series":"t₁","y":1.18,"u":0.206},{"panel":"f","series":"t₁","y":1.08,"u":0.105},{"panel":"f","series":"t₁","y":0.95,"u":0.039},{"panel":"f","series":"t₁","y":0.83,"u":0.004},{"panel":"f","series":"t₁","y":0.54,"u":0.006},{"panel":"f","series":"t₁","y":0.0,"u":0.016},
      {"panel":"f","series":"t₁+15T","y":3.0,"u":0.006},{"panel":"f","series":"t₁+15T","y":2.6,"u":0.004},{"panel":"f","series":"t₁+15T","y":2.4,"u":0.019},{"panel":"f","series":"t₁+15T","y":2.25,"u":0.034},{"panel":"f","series":"t₁+15T","y":2.11,"u":0.079},{"panel":"f","series":"t₁+15T","y":1.98,"u":0.115},{"panel":"f","series":"t₁+15T","y":1.9,"u":0.155},{"panel":"f","series":"t₁+15T","y":1.76,"u":0.196},{"panel":"f","series":"t₁+15T","y":1.53,"u":0.221},{"panel":"f","series":"t₁+15T","y":1.36,"u":0.211},{"panel":"f","series":"t₁+15T","y":1.22,"u":0.196},{"panel":"f","series":"t₁+15T","y":1.08,"u":0.155},{"panel":"f","series":"t₁+15T","y":0.93,"u":0.115},{"panel":"f","series":"t₁+15T","y":0.73,"u":0.054},{"panel":"f","series":"t₁+15T","y":0.5,"u":0.009},{"panel":"f","series":"t₁+15T","y":0.23,"u":0.004},{"panel":"f","series":"t₁+15T","y":0.0,"u":0.006},
      {"panel":"f","series":"t₁+30T","y":3.0,"u":0.011},{"panel":"f","series":"t₁+30T","y":2.7,"u":0.001},{"panel":"f","series":"t₁+30T","y":2.46,"u":0.029},{"panel":"f","series":"t₁+30T","y":2.25,"u":0.064},{"panel":"f","series":"t₁+30T","y":2.07,"u":0.095},{"panel":"f","series":"t₁+30T","y":1.88,"u":0.117},{"panel":"f","series":"t₁+30T","y":1.72,"u":0.12},{"panel":"f","series":"t₁+30T","y":1.47,"u":0.12},{"panel":"f","series":"t₁+30T","y":1.3,"u":0.145},{"panel":"f","series":"t₁+30T","y":1.22,"u":0.15},{"panel":"f","series":"t₁+30T","y":1.06,"u":0.145},{"panel":"f","series":"t₁+30T","y":0.89,"u":0.12},{"panel":"f","series":"t₁+30T","y":0.75,"u":0.135},{"panel":"f","series":"t₁+30T","y":0.64,"u":0.135},{"panel":"f","series":"t₁+30T","y":0.46,"u":0.175},{"panel":"f","series":"t₁+30T","y":0.38,"u":0.186},{"panel":"f","series":"t₁+30T","y":0.29,"u":0.211},{"panel":"f","series":"t₁+30T","y":0.19,"u":0.206},{"panel":"f","series":"t₁+30T","y":0.0,"u":0.193},
      {"panel":"f","series":"t+45T₁","y":3.0,"u":0.021},{"panel":"f","series":"t+45T₁","y":2.29,"u":0.024},{"panel":"f","series":"t+45T₁","y":2.13,"u":0.019},{"panel":"f","series":"t+45T₁","y":1.96,"u":0.004},{"panel":"f","series":"t+45T₁","y":1.86,"u":0.044},{"panel":"f","series":"t+45T₁","y":1.76,"u":0.095},{"panel":"f","series":"t+45T₁","y":1.67,"u":0.11},{"panel":"f","series":"t+45T₁","y":1.55,"u":0.095},{"panel":"f","series":"t+45T₁","y":1.41,"u":0.069},{"panel":"f","series":"t+45T₁","y":1.32,"u":0.047},{"panel":"f","series":"t+45T₁","y":1.24,"u":0.054},{"panel":"f","series":"t+45T₁","y":1.18,"u":0.069},{"panel":"f","series":"t+45T₁","y":1.1,"u":0.064},{"panel":"f","series":"t+45T₁","y":0.95,"u":0.069},{"panel":"f","series":"t+45T₁","y":0.79,"u":0.066},{"panel":"f","series":"t+45T₁","y":0.71,"u":0.095},{"panel":"f","series":"t+45T₁","y":0.64,"u":0.1},{"panel":"f","series":"t+45T₁","y":0.54,"u":0.132},{"panel":"f","series":"t+45T₁","y":0.35,"u":0.089},{"panel":"f","series":"t+45T₁","y":0.19,"u":0.004},{"panel":"f","series":"t+45T₁","y":0.13,"u":0.024},{"panel":"f","series":"t+45T₁","y":0.0,"u":0.021}
    ]
  },
  "config": {
    "font": "Times New Roman",
    "view": {"stroke": "black", "strokeWidth": 6},
    "axis": {
      "grid": true, "gridColor": "#bdbdbd", "gridDash": [5, 12.5], "gridWidth": 5,
      "domain": false, "tickColor": "black", "tickWidth": 5.5, "tickSize": 26,
      "labelFont": "Times New Roman", "labelFontSize": 78, "labelColor": "black",
      "titleFont": "Times New Roman", "titleFontSize": 84, "titleFontStyle": "italic",
      "titleFontWeight": "normal", "titleColor": "black"
    },
    "title": {"font": "Times New Roman", "fontSize": 82, "fontStyle": "italic", "fontWeight": "normal", "color": "black", "offset": 35, "baseline": "alphabetic"},
    "legend": {
      "title": null, "padding": 0,
      "symbolType": "M-4,0H4", "symbolSize": 2550, "symbolStrokeWidth": 7, "symbolOpacity": 0.7,
      "labelFont": "Times New Roman", "labelFontSize": 90, "labelFontStyle": "italic", "labelColor": "black",
      "labelOffset": 86, "columnPadding": 116, "labelLimit": 600
    },
    "concat": {"spacing": 68}
  },
  "vconcat": [
    {
      "hconcat": [
        {
          "title": {"text": "x/D=1", "dy": 25}, "width": 726, "height": 718,
          "data": {"name": "prof"}, "transform": [{"filter": {"field": "panel", "equal": "a"}}],
          "layer": [
            {"mark": {"type": "line", "strokeWidth": 7, "clip": true, "interpolate": "catmull-rom"},
             "encoding": {
               "x": {"field": "u", "type": "quantitative", "scale": {"domain": [-0.071, 0.673], "nice": false, "zero": false}, "axis": {"values": [0, 0.2, 0.4, 0.6], "labels": false, "ticks": false, "title": null}},
               "y": {"field": "y", "type": "quantitative", "scale": {"domain": [-0.06, 3.06], "nice": false}, "axis": {"values": [0, 1, 2, 3], "format": "d", "title": "y/D", "labelPadding": 8, "titlePadding": 65}},
               "color": {"field": "series", "type": "nominal", "scale": {"domain": ["t₀", "t₁", "t₁+15T", "t₁+30T", "t+45T₁"], "range": ["#1f77b4", "#ff7f0e", "#2ca02c", "#d62728", "#9467bd"]},
                 "legend": {"orient": "none", "direction": "horizontal", "legendX": -73, "legendY": -262}},
               "order": {"field": "y", "sort": "descending"}
             }},
            {"data": {"values": [{}]}, "mark": {"type": "text", "fontSize": 96, "align": "right", "baseline": "middle", "color": "black"},
             "encoding": {"x": {"datum": 0.657}, "y": {"datum": 2.69}, "text": {"value": "(a)"}}}
          ]
        },
        {
          "title": "x/D=3", "width": 726, "height": 718,
          "data": {"name": "prof"}, "transform": [{"filter": {"field": "panel", "equal": "b"}}],
          "layer": [
            {"mark": {"type": "line", "strokeWidth": 7, "clip": true, "interpolate": "catmull-rom"},
             "encoding": {
               "x": {"field": "u", "type": "quantitative", "scale": {"domain": [-0.071, 0.673], "nice": false, "zero": false}, "axis": {"values": [0, 0.2, 0.4, 0.6], "labels": false, "ticks": false, "title": null}},
               "y": {"field": "y", "type": "quantitative", "scale": {"domain": [-0.06, 3.06], "nice": false}, "axis": {"values": [0, 1, 2, 3], "labels": false, "ticks": false, "title": null}},
               "color": {"field": "series", "type": "nominal"},
               "order": {"field": "y", "sort": "descending"}
             }},
            {"data": {"values": [{}]}, "mark": {"type": "text", "fontSize": 96, "align": "right", "baseline": "middle", "color": "black"},
             "encoding": {"x": {"datum": 0.657}, "y": {"datum": 2.69}, "text": {"value": "(b)"}}}
          ]
        },
        {
          "title": "x/D=5", "width": 726, "height": 718,
          "data": {"name": "prof"}, "transform": [{"filter": {"field": "panel", "equal": "c"}}],
          "layer": [
            {"mark": {"type": "line", "strokeWidth": 7, "clip": true, "interpolate": "catmull-rom"},
             "encoding": {
               "x": {"field": "u", "type": "quantitative", "scale": {"domain": [-0.071, 0.673], "nice": false, "zero": false}, "axis": {"values": [0, 0.2, 0.4, 0.6], "labels": false, "ticks": false, "title": null}},
               "y": {"field": "y", "type": "quantitative", "scale": {"domain": [-0.06, 3.06], "nice": false}, "axis": {"values": [0, 1, 2, 3], "labels": false, "ticks": false, "title": null}},
               "color": {"field": "series", "type": "nominal"},
               "order": {"field": "y", "sort": "descending"}
             }},
            {"data": {"values": [{}]}, "mark": {"type": "text", "fontSize": 96, "align": "right", "baseline": "middle", "color": "black"},
             "encoding": {"x": {"datum": 0.657}, "y": {"datum": 2.69}, "text": {"value": "(c)"}}}
          ]
        }
      ]
    },
    {
      "hconcat": [
        {
          "title": {"text": "x/D=7", "dy": 25}, "width": 726, "height": 718,
          "data": {"name": "prof"}, "transform": [{"filter": {"field": "panel", "equal": "d"}}],
          "layer": [
            {"mark": {"type": "line", "strokeWidth": 7, "clip": true, "interpolate": "catmull-rom"},
             "encoding": {
               "x": {"field": "u", "type": "quantitative", "scale": {"domain": [-0.071, 0.673], "nice": false, "zero": false}, "axis": {"values": [0, 0.2, 0.4, 0.6], "format": ".1f", "title": "ΔU/Uₕ", "labelPadding": 26, "titlePadding": 24}},
               "y": {"field": "y", "type": "quantitative", "scale": {"domain": [-0.06, 3.06], "nice": false}, "axis": {"values": [0, 1, 2, 3], "format": "d", "title": "y/D", "labelPadding": 8, "titlePadding": 65}},
               "color": {"field": "series", "type": "nominal"},
               "order": {"field": "y", "sort": "descending"}
             }},
            {"data": {"values": [{}]}, "mark": {"type": "text", "fontSize": 96, "align": "right", "baseline": "middle", "color": "black"},
             "encoding": {"x": {"datum": 0.657}, "y": {"datum": 2.69}, "text": {"value": "(d)"}}}
          ]
        },
        {
          "title": "x/D=9", "width": 726, "height": 718,
          "data": {"name": "prof"}, "transform": [{"filter": {"field": "panel", "equal": "e"}}],
          "layer": [
            {"mark": {"type": "line", "strokeWidth": 7, "clip": true, "interpolate": "catmull-rom"},
             "encoding": {
               "x": {"field": "u", "type": "quantitative", "scale": {"domain": [-0.071, 0.673], "nice": false, "zero": false}, "axis": {"values": [0, 0.2, 0.4, 0.6], "format": ".1f", "title": "ΔU/Uₕ", "labelPadding": 26, "titlePadding": 24}},
               "y": {"field": "y", "type": "quantitative", "scale": {"domain": [-0.06, 3.06], "nice": false}, "axis": {"values": [0, 1, 2, 3], "labels": false, "ticks": false, "title": null}},
               "color": {"field": "series", "type": "nominal"},
               "order": {"field": "y", "sort": "descending"}
             }},
            {"data": {"values": [{}]}, "mark": {"type": "text", "fontSize": 96, "align": "right", "baseline": "middle", "color": "black"},
             "encoding": {"x": {"datum": 0.657}, "y": {"datum": 2.69}, "text": {"value": "(e)"}}}
          ]
        },
        {
          "title": "x/D=11", "width": 726, "height": 718,
          "data": {"name": "prof"}, "transform": [{"filter": {"field": "panel", "equal": "f"}}],
          "layer": [
            {"mark": {"type": "line", "strokeWidth": 7, "clip": true, "interpolate": "catmull-rom"},
             "encoding": {
               "x": {"field": "u", "type": "quantitative", "scale": {"domain": [-0.071, 0.673], "nice": false, "zero": false}, "axis": {"values": [0, 0.2, 0.4, 0.6], "format": ".1f", "title": "ΔU/Uₕ", "labelPadding": 26, "titlePadding": 24}},
               "y": {"field": "y", "type": "quantitative", "scale": {"domain": [-0.06, 3.06], "nice": false}, "axis": {"values": [0, 1, 2, 3], "labels": false, "ticks": false, "title": null}},
               "color": {"field": "series", "type": "nominal"},
               "order": {"field": "y", "sort": "descending"}
             }},
            {"data": {"values": [{}]}, "mark": {"type": "text", "fontSize": 96, "align": "right", "baseline": "middle", "color": "black"},
             "encoding": {"x": {"datum": 0.657}, "y": {"datum": 2.69}, "text": {"value": "(f)"}}}
          ]
        }
      ]
    }
  ],
  "spacing": 35
}
